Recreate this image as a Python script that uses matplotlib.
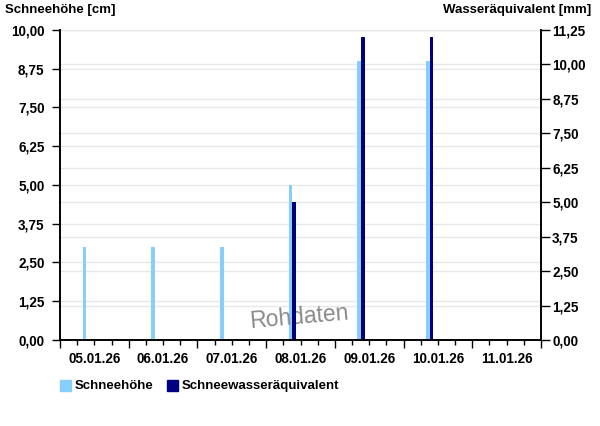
import matplotlib
matplotlib.use("Agg")
import matplotlib.pyplot as plt
from matplotlib.patches import Rectangle
import numpy as np

# data
days = ['05.01.26', '06.01.26', '07.01.26', '08.01.26', '09.01.26', '10.01.26', '11.01.26']
schneehoehe = [3, 3, 3, 5, 9, 9, 0]          # cm
wasseraequivalent = [0, 0, 0, 5.0, 11.0, 11.0, 0]  # mm

left_ticks = [0, 1.25, 2.5, 3.75, 5, 6.25, 7.5, 8.75, 10]
right_ticks = [0, 1.25, 2.5, 3.75, 5, 6.25, 7.5, 8.75, 10, 11.25]

light = '#87cefa'
dark = '#000080'

plt.rcParams['font.family'] = ['Liberation Sans', 'DejaVu Sans']
plt.rcParams['font.weight'] = 'bold'
plt.rcParams['font.size'] = 9.75


def de(v):
    return f'{v:.2f}'.replace('.', ',')


fig = plt.figure(figsize=(6.0, 4.26), dpi=100)
ax = fig.add_axes([0.1, 0.2019, 0.8017, 0.7277])
ax2 = ax.twinx()

x = np.arange(len(days))
w = 0.052
ax.bar(x + 0.355, schneehoehe, width=w, color=light, zorder=2)
ax2.bar(x + 0.355 + w, wasseraequivalent, width=w, color=dark, zorder=2)

ax.set_xlim(0, len(days))
ax.set_ylim(0, 10)
ax2.set_ylim(0, 11.25)

# grid lines of both scales
for v in left_ticks:
    ax.axhline(v, color='#e8e8e8', lw=1, zorder=0)
for v in right_ticks:
    ax.axhline(v * 10 / 11.25, color='#e8e8e8', lw=1, zorder=0)

ax.set_yticks(left_ticks)
ax.set_yticklabels([de(v) for v in left_ticks])
ax2.set_yticks(right_ticks)
ax2.set_yticklabels([de(v) for v in right_ticks])

ax.set_xticks(np.arange(len(days) + 1))
ax.set_xticklabels([])
ax.set_xticks(np.arange(0, len(days), 0.25), minor=True)
ax.tick_params(axis='x', which='major', length=5.8, width=1, color='black')
ax.tick_params(axis='x', which='minor', length=3.6, width=1, color='black')
for i, d in enumerate(days):
    ax.text(i + 0.5, -0.04, d, transform=ax.get_xaxis_transform(),
            ha='center', va='top', fontsize=9.75, fontweight='bold')

ax.tick_params(axis='y', length=6, width=1, pad=5)
ax2.tick_params(axis='y', length=6.5, width=1, pad=1.5)

for a in (ax, ax2):
    a.spines['top'].set_visible(False)
    for s in ('left', 'right', 'bottom'):
        a.spines[s].set_linewidth(1.2)

fig.text(5 / 600, 1 - 10 / 426, 'Schneehöhe [cm]', ha='left', va='center',
         fontsize=9.5, fontweight='bold')
fig.text(591 / 600, 1 - 10 / 426, 'Wasseräquivalent [mm]', ha='right', va='center',
         fontsize=9.5, fontweight='bold')

# watermark
ax.text(0.497, 0.075, 'Rohdaten', transform=ax.transAxes, ha='center', va='center',
        fontsize=16.5, fontweight='normal', color='#8a8a8a', rotation=5, zorder=5)

# legend
fig.patches.append(Rectangle((60 / 600, 1 - 391 / 426), 11 / 600, 11 / 426,
                             transform=fig.transFigure, color=light))
fig.text(75 / 600, 1 - 386 / 426, 'Schneehöhe', ha='left', va='center', fontsize=9.5)
fig.patches.append(Rectangle((167 / 600, 1 - 391 / 426), 11 / 600, 11 / 426,
                             transform=fig.transFigure, color=dark))
fig.text(182 / 600, 1 - 386 / 426, 'Schneewasseräquivalent', ha='left', va='center',
         fontsize=9.5)

fig.savefig('out.png', dpi=100)
